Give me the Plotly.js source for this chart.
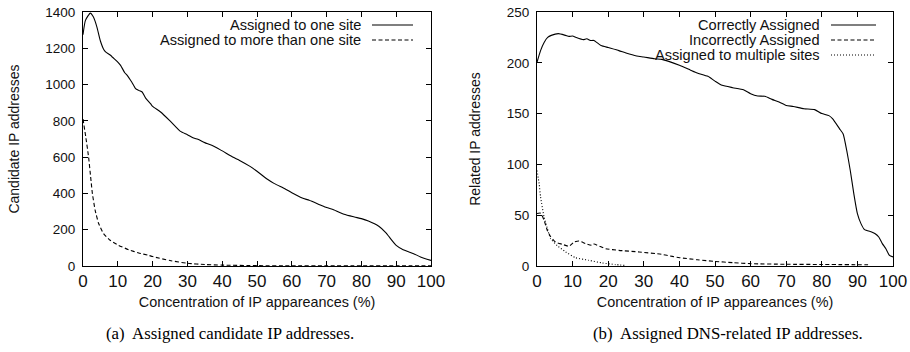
<!DOCTYPE html>
<html>
<head>
<meta charset="utf-8">
<script src="https://cdn.plot.ly/plotly-3.0.1.min.js"></script>
<style>html,body{margin:0;padding:0;background:#fff;}#chart{width:910px;height:352px;}</style>
</head>
<body>
<div id="chart"></div>
<script>
// ---------- Data: panel (a) ----------
const aOneX   = [0, 0.7, 2.1, 3, 4, 5, 6, 6.5, 8, 8.4, 10, 10.8, 12, 12.7, 14, 15.1, 16, 17, 18, 19.4, 20, 22.3, 25, 28, 30, 31.8, 33, 35, 37, 39.5, 43, 45, 48, 50, 53, 55, 58, 60, 63, 65, 68, 70, 72, 75, 78, 80, 82, 85, 87, 88, 90, 92, 95, 97, 100];
const aOneY   = [1275, 1354, 1394, 1372, 1317, 1240, 1192, 1180, 1160, 1152, 1124, 1106, 1065, 1051, 1014, 978, 968, 959, 925, 895, 880, 849, 800, 742, 724, 705, 698, 680, 665, 640, 601, 582, 549, 522, 478, 454, 426, 404, 375, 362, 338, 322, 310, 285, 270, 261, 248, 219, 184, 160, 114, 90, 68, 50, 31];
const aMultiX = [0, 0.8, 1.6, 2.2, 2.7, 3.5, 4.5, 5.9, 7.8, 10.2, 13.1, 16, 18.8, 20, 25, 30, 35, 40, 50, 60, 70, 80, 90, 100];
const aMultiY = [810, 711, 601, 490, 399, 307, 234, 179, 142, 114, 90, 72, 59, 52, 30, 15, 8, 5, 2, 1, 1, 1, 1, 1];

// ---------- Data: panel (b) ----------
const bCorrX = [0, 1, 2, 3, 4, 6, 8, 9, 10, 11, 13, 14, 15, 16, 18, 20, 23, 25, 28, 30, 33, 35, 37, 40, 43, 45, 48, 50, 52, 55, 58, 60, 62, 64, 66, 68, 70, 72, 75, 78, 80, 82, 83, 85, 86, 87, 88, 89, 90, 91, 92, 94, 95, 96, 97, 98, 99, 100];
const bCorrY = [200.5, 212, 220, 225, 227, 228.7, 227, 226, 226.4, 225, 222.8, 223.7, 222, 222, 217, 215, 212, 209.6, 206.7, 205.7, 204, 203.4, 201.4, 197.5, 193, 190, 186.7, 182, 177.8, 175.5, 173.5, 169.6, 167.3, 167, 164, 161.4, 158, 157, 154.8, 153.9, 150, 148, 145, 135, 130, 113.8, 94, 71, 51.5, 41.7, 35.8, 33.5, 31.8, 28.5, 22, 17, 10.5, 8.9];
const bIncX  = [0, 1, 2, 2.9, 3.8, 5.2, 7.1, 9, 10.4, 11.8, 13.7, 15.5, 16, 19.3, 23, 28.7, 35, 38, 40, 45, 50, 55, 60, 70, 80, 93];
const bIncY  = [51.6, 52, 45, 35, 29, 23.6, 21.4, 19.4, 23.6, 24.6, 22, 20.4, 21.6, 17, 15.4, 13.8, 11.5, 9.5, 8.2, 6.2, 4.5, 3.3, 2.3, 1.7, 1.5, 1.2];
const bMultX = [0, 0.6, 1, 2, 2.9, 3.8, 5.7, 8, 10.8, 14.6, 18.3, 22, 25];
const bMultY = [94, 81, 68, 48, 37, 27, 20, 14, 8.2, 5.6, 3, 1.4, 0.5];

// ---------- Labels ----------
const aNames = ['Assigned to one site', 'Assigned to more than one site'];
const bNames = ['Correctly Assigned', 'Incorrectly Assigned', 'Assigned to multiple sites'];
const xTitle = 'Concentration of IP appareances (%)';
const aYTitle = 'Candidate IP addresses';
const bYTitle = 'Related IP addresses';
const captions = ['(a)  Assigned candidate IP addresses.', '(b)  Assigned DNS-related IP addresses.'];

// ---------- Layout helpers ----------
const W = 910, H = 352;
const px = v => v / W;
const py = v => 1 - v / H;
const SANS = 'Liberation Sans, Arial, sans-serif';
const SERIF = 'Liberation Serif, Times New Roman, serif';
const DASH = '4px,2.5px';
const DOT = '1px,2px';

function line(x, y, xa, ya, dash) {
  return {x: x, y: y, xaxis: xa, yaxis: ya, type: 'scatter', mode: 'lines',
    line: {color: '#000', width: 1.1, dash: dash, shape: 'spline', smoothing: 0.5},
    showlegend: false, hoverinfo: 'skip'};
}

const traces = [
  line(aOneX, aOneY, 'x', 'y', 'solid'),
  line(aMultiX, aMultiY, 'x', 'y', DASH),
  line(bCorrX, bCorrY, 'x2', 'y2', 'solid'),
  line(bIncX, bIncY, 'x2', 'y2', DASH),
  line(bMultX, bMultY, 'x2', 'y2', DOT)
];

function xax(dom, anchor) {
  return {domain: dom, anchor: anchor, range: [0, 100], dtick: 10, tick0: 0,
    ticks: 'inside', ticklen: 5, tickwidth: 1, tickcolor: '#000', mirror: 'allticks',
    showline: true, linecolor: '#000', linewidth: 1, showgrid: false, zeroline: false,
    tickfont: {family: SANS, size: 17, color: '#111'}, automargin: false,
    title: {text: xTitle, font: {family: SANS, size: 14.4, color: '#111'}, standoff: 6}};
}
function yax(dom, anchor, rng, dt, title) {
  return {domain: dom, anchor: anchor, range: rng, dtick: dt, tick0: 0,
    ticks: 'inside', ticklen: 5, tickwidth: 1, tickcolor: '#000', mirror: 'allticks',
    showline: true, linecolor: '#000', linewidth: 1, showgrid: false, zeroline: false,
    tickfont: {family: SANS, size: 13.5, color: '#111'}, automargin: false,
    ticklabelstandoff: 4,
    title: {text: title, font: {family: SANS, size: 14, color: '#111'}, standoff: 22}};
}

const yDom = [py(266), py(12)];
const layout = {
  width: W, height: H,
  margin: {l: 0, r: 0, t: 0, b: 0},
  paper_bgcolor: '#fff', plot_bgcolor: '#fff',
  showlegend: false,
  xaxis: xax([px(83), px(431)], 'y'),
  yaxis: yax(yDom, 'x', [0, 1400], 200, aYTitle),
  xaxis2: xax([px(537), px(893)], 'y2'),
  yaxis2: yax(yDom, 'x2', [0, 250], 50, bYTitle),
  annotations: [],
  shapes: []
};

// Legends (gnuplot style: text right-aligned, sample on the right)
const legA = {textRight: 363, x0: 372, x1: 413, rows: [25, 40], dashes: ['solid', DASH], names: aNames};
const legB = {textRight: 822, x0: 831, x1: 876, rows: [25, 40, 55], dashes: ['solid', DASH, DOT], names: bNames};
[legA, legB].forEach(L => {
  L.names.forEach((n, i) => {
    layout.annotations.push({xref: 'paper', yref: 'paper', x: px(L.textRight), y: py(L.rows[i]),
      xanchor: 'right', yanchor: 'middle', showarrow: false, text: n,
      font: {family: SANS, size: 14.6, color: '#111'}});
    layout.shapes.push({type: 'line', xref: 'paper', yref: 'paper',
      x0: px(L.x0), x1: px(L.x1), y0: py(L.rows[i]), y1: py(L.rows[i]),
      line: {color: '#000', width: 1.1, dash: L.dashes[i]}});
  });
});

// Captions
[[230, captions[0]], [728, captions[1]]].forEach(c => {
  layout.annotations.push({xref: 'paper', yref: 'paper', x: px(c[0]), y: py(333),
    xanchor: 'center', yanchor: 'middle', showarrow: false, text: c[1],
    font: {family: SERIF, size: 16.8, color: '#000'}});
});

Plotly.newPlot('chart', traces, layout, {staticPlot: true, displayModeBar: false});
</script>
</body>
</html>
